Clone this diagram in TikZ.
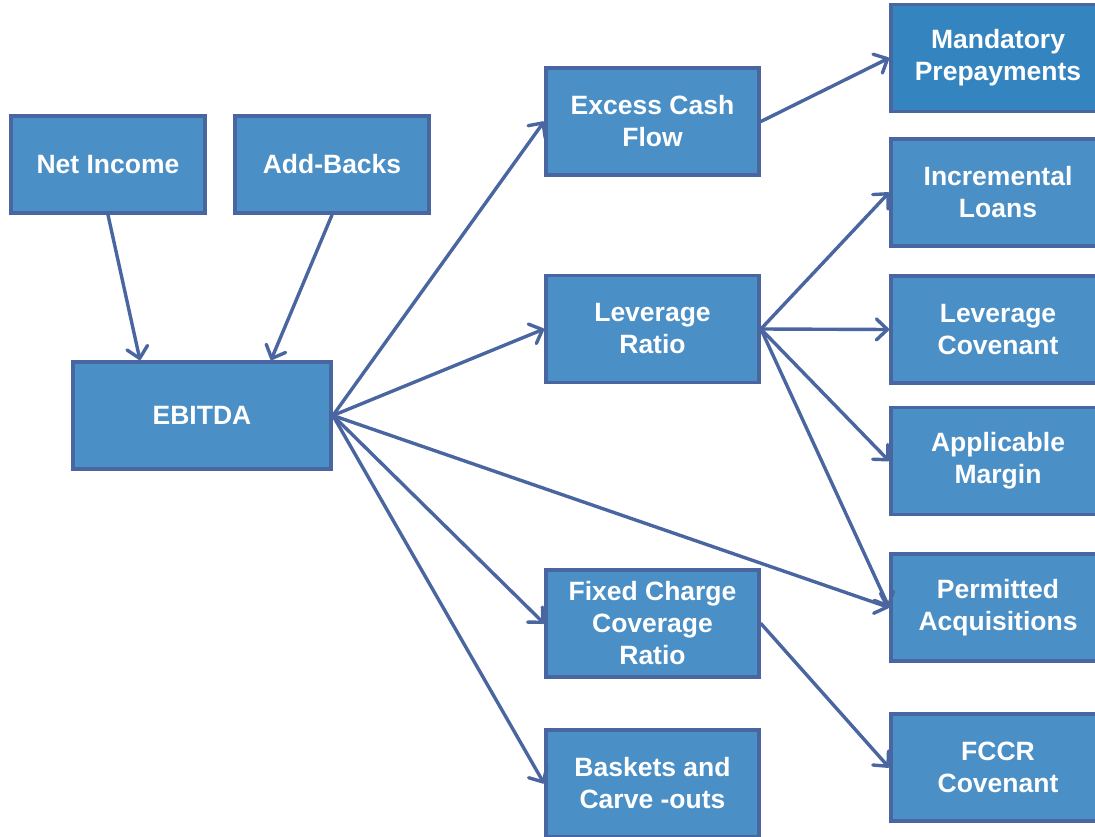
\documentclass[tikz,border=0pt]{standalone}
\usepackage{fontspec}
\setmainfont{Liberation Sans}
\usetikzlibrary{arrows.meta}
\definecolor{boxfill}{HTML}{4A8FC6}
\definecolor{boxfilldark}{HTML}{3484BF}
\definecolor{edgeblue}{HTML}{4A66A0}
\begin{document}
\begin{tikzpicture}[x=1pt,y=-1pt,
  box/.style={draw=edgeblue, fill=boxfill, line width=3.8pt, minimum width=213pt, minimum height=107pt,
    inner sep=0pt, text=white, align=center, font=\fontsize{26.5}{32}\selectfont\bfseries},
  smallbox/.style={box, minimum width=194pt, minimum height=97pt},
  arr/.style={draw=edgeblue, line width=3.4pt, line cap=round, -{Straight Barb[length=11pt,width=21pt,line cap=round,line join=round]}}]
\useasboundingbox (0,0) rectangle (1095,837);
\clip (0,0) rectangle (1095,837);
\fill[white] (0,0) rectangle (1095,837);
% left nodes
\node[smallbox] (ni) at (108,164.5) {Net Income};
\node[smallbox] (ab) at (332,164.5) {Add-Backs};
\node[box, minimum width=258pt] (eb) at (202,415.5) {EBITDA};
% middle column
\node[box] (ecf) at (652.5,121.5) {Excess Cash\\Flow};
\node[box] (lr) at (652.5,329) {Leverage\\Ratio};
\node[box] (fc) at (652.5,623.5) {Fixed Charge\\Coverage\\Ratio};
\node[box] (bc) at (652.5,783.5) {Baskets and\\Carve -outs};
% right column
\node[box, fill=boxfilldark, minimum width=214pt] (mp) at (998,58) {Mandatory\\Prepayments};
\node[box, minimum width=214pt] (il) at (998,192.5) {Incremental\\Loans};
\node[box, minimum width=214pt] (lc) at (998,329.5) {Leverage\\Covenant};
\node[box, minimum width=214pt] (am) at (998,461) {Applicable\\Margin};
\node[box, minimum width=214pt] (pa) at (998,607.5) {Permitted\\Acquisitions};
\node[box, minimum width=214pt] (fcc) at (998,767.5) {FCCR\\Covenant};
% connectors
\draw[arr] (ni.south) -- ([xshift=-62pt]eb.north);
\draw[arr] (ab.south) -- ([xshift=69pt]eb.north);
\draw[arr] (eb.east) -- (ecf.west);
\draw[arr] (eb.east) -- (lr.west);
\draw[arr] (eb.east) -- (pa.west);
\draw[arr] (eb.east) -- (fc.west);
\draw[arr] (eb.east) -- (bc.west);
\draw[arr] (ecf.east) -- (mp.west);
\draw[arr] (lr.east) -- (il.west);
\draw[arr] (lr.east) -- (lc.west);
\draw[arr] (lr.east) -- (am.west);
\draw[arr] (lr.east) -- (pa.west);
\draw[arr] (fc.east) -- (fcc.west);
\end{tikzpicture}
\end{document}
